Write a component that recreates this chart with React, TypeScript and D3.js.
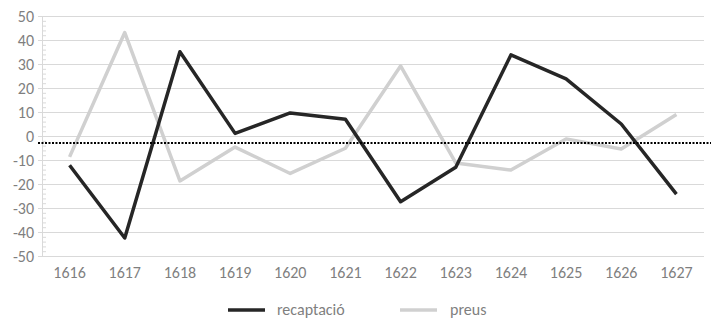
import React from 'react';
import * as d3 from 'd3';

const years = ['1616', '1617', '1618', '1619', '1620', '1621', '1622', '1623', '1624', '1625', '1626', '1627'];
const recaptacio = [-12, -42.3, 35.3, 1.3, 9.8, 7.2, -27.2, -12.8, 34, 24, 5.2, -24];
const preus = [-8.5, 43.3, -18.5, -4.4, -15.4, -4.9, 29.4, -11, -14, -1, -5.2, 9.2];
const yTicks = [50, 40, 30, 20, 10, 0, -10, -20, -30, -40, -50];
const trendValue = -2.7;
const seriesNames = ['recaptació', 'preus'];

const W = 711;
const H = 318;
const left = 42;
const right = 704;
const top = 16.5;
const bottom = 256.5;
const font = "Carlito, Lato, 'Open Sans', sans-serif";
const textColor = '#7f7f7f';

export default function App() {
  const x = d3.scaleBand<string>().domain(years).range([left, right]).padding(0);
  const y = d3.scaleLinear().domain([-50, 50]).range([bottom, top]);
  const cx = (i: number) => (x(years[i]) ?? 0) + x.bandwidth() / 2;
  const line = d3.line<number>().x((_, i) => cx(i)).y((d) => y(d));
  const minorTicks = d3.range(-50, 50.01, 2).filter((v) => v % 10 !== 0);

  return (
    <div style={{ position: 'fixed', left: 0, top: 0 }}>
      <svg width={W} height={H} style={{ display: 'block', background: '#fff' }} fontFamily={font}>
        {/* grid */}
        {yTicks.map((t) => (
          <line key={t} x1={left - 4} x2={right} y1={y(t)} y2={y(t)} stroke="#d9d9d9" strokeWidth={1} />
        ))}
        {/* y axis */}
        <line x1={left + 0.5} x2={left + 0.5} y1={top} y2={bottom} stroke="#d9d9d9" />
        {minorTicks.map((t) => (
          <line key={t} x1={left} x2={left + 4} y1={y(t)} y2={y(t)} stroke="#d9d9d9" />
        ))}
        {yTicks.map((t) => (
          <text key={t} x={left - 8} y={y(t)} dy="0.35em" textAnchor="end" fontSize={16} fill={textColor}>
            {t}
          </text>
        ))}
        {years.map((yr, i) => (
          <text key={yr} x={cx(i)} y={bottom + 16} dy="0.35em" textAnchor="middle" fontSize={16} fill={textColor}>
            {yr}
          </text>
        ))}
        {/* series */}
        <path d={line(preus) ?? ''} fill="none" stroke="#d0d0d0" strokeWidth={3.5} strokeLinejoin="round" />
        <path d={line(recaptacio) ?? ''} fill="none" stroke="#262626" strokeWidth={3.5} strokeLinejoin="round" />
        {/* trend line */}
        <line x1={left - 4} x2={W} y1={y(trendValue)} y2={y(trendValue)} stroke="#000" strokeWidth={2} strokeDasharray="2 1.5" />
        {/* legend */}
        <g transform="translate(228, 310)">
          <line x1={0} x2={37} y1={0} y2={0} stroke="#262626" strokeWidth={3.5} />
          <text x={49} y={0} dy="0.3em" fontSize={16} fill={textColor}>{seriesNames[0]}</text>
          <line x1={172} x2={209} y1={0} y2={0} stroke="#d0d0d0" strokeWidth={3.5} />
          <text x={222} y={0} dy="0.3em" fontSize={16} fill={textColor}>{seriesNames[1]}</text>
        </g>
      </svg>
    </div>
  );
}
